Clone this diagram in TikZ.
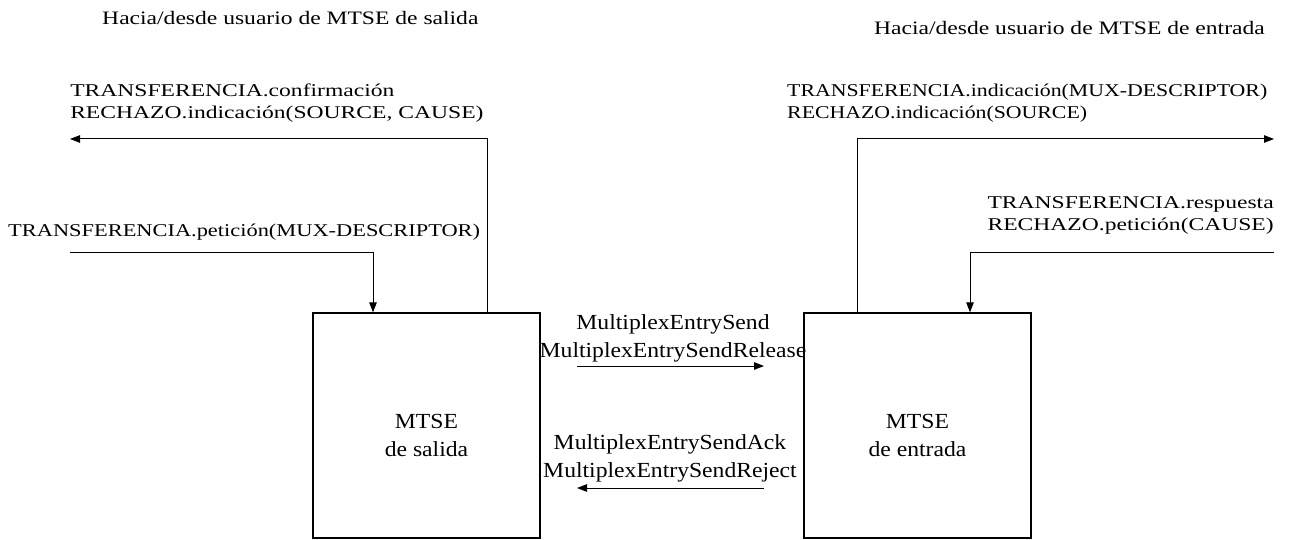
\documentclass[tikz,border=0pt]{standalone}
\usepackage{fontspec}
\setmainfont{Liberation Serif}
\usetikzlibrary{arrows.meta}
\newcommand\stackL[1]{\vtop{\halign{##\hfil\cr#1\crcr}}}
\newcommand\stackR[1]{\vtop{\halign{\hfil##\cr#1\crcr}}}
\newcommand\stackC[1]{\vtop{\halign{\hfil##\hfil\cr#1\crcr}}}
\tikzset{
  lab/.style={inner sep=0pt, font=\fontsize{18}{22}\selectfont, xscale=1.31},
  mid/.style={inner sep=0pt, font=\fontsize{21.5}{28.5}\selectfont, xscale=1.1},
  head/.style={inner sep=0pt, font=\fontsize{19}{23}\selectfont, xscale=1.24},
  box/.style={draw, line width=1.3pt, minimum width=227pt, minimum height=225pt, inner sep=0pt},
  arr/.style={line width=1pt, -{Triangle[length=10pt,width=7.5pt]}},
}
\begin{document}
\begin{tikzpicture}[x=1pt,y=-1pt]
\useasboundingbox (0,0) rectangle (1294,540);
% boxes
\node[box] (L) at (426.5,425.5) {};
\node[box] (R) at (917.5,425.5) {};
\node[mid, anchor=base] (Lt) at (426.5,428) {\stackC{MTSE\cr de salida}};
\node[mid, anchor=base] (Rt) at (917.5,428) {\stackC{MTSE\cr de entrada}};
% headings
\node[head, anchor=base west] (h1) at (102,25) {Hacia/desde usuario de MTSE de salida};
\node[head, anchor=base east] (h2) at (1265,35) {Hacia/desde usuario de MTSE de entrada};
% side labels
\node[lab, anchor=base west] (tl) at (70,97) {\stackL{TRANSFERENCIA.confirmación\cr RECHAZO.indicación(SOURCE, CAUSE)}};
\node[lab, xscale=0.95, anchor=base west] (pl) at (8,237) {TRANSFERENCIA.petición(MUX-DESCRIPTOR)};
\node[lab, xscale=0.925, anchor=base west] (tr) at (787,97) {\stackL{TRANSFERENCIA.indicación(MUX-DESCRIPTOR)\cr RECHAZO.indicación(SOURCE)}};
\node[lab, anchor=base east] (pr) at (1274,209) {\stackR{TRANSFERENCIA.respuesta\cr RECHAZO.petición(CAUSE)}};
% middle labels
\node[mid, anchor=base] (m1) at (673,329) {\stackC{MultiplexEntrySend\cr MultiplexEntrySendRelease}};
\node[mid, anchor=base] (m2) at (670,449) {\stackC{MultiplexEntrySendAck\cr MultiplexEntrySendReject}};
% coordinates
\coordinate (LoutX) at (487,0);
\coordinate (LinX) at (373,0);
\coordinate (RoutX) at (857,0);
\coordinate (RinX) at (970,0);
\coordinate (tlEnd) at (70,139);
\coordinate (trEnd) at (1274,139);
\coordinate (plStart) at (70,253);
\coordinate (prStart) at (1274,253);
\coordinate (f1s) at (577,366);
\coordinate (f1e) at (764,366);
\coordinate (f2s) at (764,488);
\coordinate (f2e) at (577,488);
% connectors
\draw[arr] (L.north -| LoutX) |- (tlEnd);
\draw[arr] (plStart) -| (L.north -| LinX);
\draw[arr] (R.north -| RoutX) |- (trEnd);
\draw[arr] (prStart) -| (R.north -| RinX);
\draw[arr] (f1s) -- (f1e);
\draw[arr] (f2s) -- (f2e);
\end{tikzpicture}
\end{document}
